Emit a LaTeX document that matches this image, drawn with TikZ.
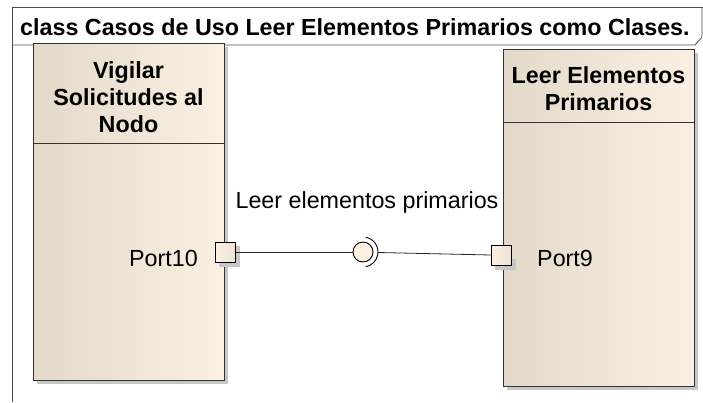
\documentclass[tikz,border=0pt]{standalone}
\usepackage{fontspec}
\setmainfont{Liberation Sans}
\begin{document}
\begin{tikzpicture}[x=1pt,y=-1pt,
  shadowbox/.style={fill=black!22,draw=none},
  classbox/.style={draw=black!80,line width=0.9pt,left color=boxL,right color=boxR},
  portbox/.style={draw=black,line width=0.9pt,left color=boxR,right color=boxL!60!boxR,minimum size=20pt,inner sep=0pt},
  lbl/.style={font=\fontsize{23.3}{27}\selectfont,inner sep=0pt},
  ttl/.style={font=\bfseries\fontsize{23.3}{27}\selectfont,align=center,inner sep=0pt},
  conn/.style={draw=black!85,line width=0.8pt}]
\definecolor{boxL}{HTML}{E3D9C9}
\definecolor{boxR}{HTML}{FBF0E2}
\useasboundingbox (0,0) rectangle (703,402);
% frame
\draw[black!70,line width=0.8pt] (12,402) -- (12,7) -- (703,7);
\draw[black!70,line width=0.8pt] (12,45) -- (695,45) -- (702,37) -- (702,7);
\node[font=\bfseries\fontsize{23.3}{26}\selectfont,anchor=base west,inner sep=0pt] (title) at (20,35) {class Casos de Uso Leer Elementos Primarios como Clases.};
% left class
\fill[shadowbox] (37,47) rectangle (228,384);
\draw[classbox] (33,43) rectangle (224,380);
\draw[black!80,line width=0.9pt] (33,143) -- (224,143);
\node[ttl] (c1) at (128.5,97) {Vigilar\\Solicitudes al\\Nodo};
% right class
\fill[shadowbox] (507,53) rectangle (698,390);
\draw[classbox] (503,49) rectangle (694,386);
\draw[black!80,line width=0.9pt] (503,122) -- (694,122);
\node[ttl] (c2) at (598.5,89) {Leer Elementos\\Primarios};
% ports
\fill[shadowbox] (219,256) rectangle (240,267);
\fill[shadowbox] (236,246) rectangle (240,267);
\node[portbox] (p10) at (225.5,252) {};
\fill[shadowbox] (495,259) rectangle (516,270);
\node[portbox] (p9) at (501.5,255) {};
\node[lbl,anchor=east] (l10) at (198,258) {Port10};
\node[lbl,anchor=west] (l9) at (537,258) {Port9};
% lollipop
\node[circle,draw=black,line width=0.9pt,fill=boxR,minimum size=20pt,inner sep=0pt] (ball) at (363,252) {};
\coordinate (sock) at (378,252.5);
\draw[black,line width=0.9pt] (363,252) ++(-80:15) arc[start angle=-80,end angle=80,radius=15];
\draw[conn] (p10.east) -- (ball.west);
\draw[conn] (sock) -- (p9.west);
\node[lbl] (iface) at (367,202) {Leer elementos primarios};
\end{tikzpicture}
\end{document}
